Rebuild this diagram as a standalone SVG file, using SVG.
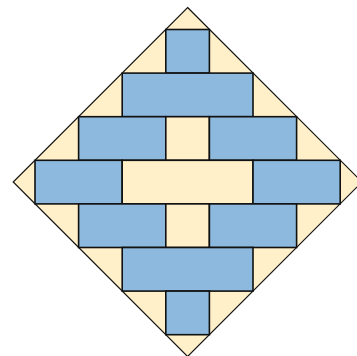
<svg xmlns="http://www.w3.org/2000/svg" width="357" height="356" viewBox="0 0 357 356">
<style>
.b{fill:#8cb9dd;stroke:#111;stroke-width:1.6}
.y{fill:#fff0c9;stroke:#111;stroke-width:1.6}
.d{fill:#fff0c9;stroke:#111;stroke-width:1.2}
</style>
<rect width="357" height="356" fill="#fff"/>
<g id="diamond"><polygon class="d" points="187.6,7.5 362,182 187.6,356.5 13.2,182"/></g>
<g id="tiles">
<rect id="r0" class="b" x="165.8" y="29.5" width="43.6" height="43.6"/>
<rect id="r1" class="b" x="122.2" y="73.1" width="130.8" height="43.6"/>
<rect id="r2a" class="b" x="78.6" y="116.7" width="87.2" height="43.6"/>
<rect id="r2b" class="y" x="165.8" y="116.7" width="43.6" height="43.6"/>
<rect id="r2c" class="b" x="209.4" y="116.7" width="87.2" height="43.6"/>
<rect id="r3a" class="b" x="35" y="160.3" width="87.2" height="43.6"/>
<rect id="r3b" class="y" x="122.2" y="160.3" width="130.8" height="43.6"/>
<rect id="r3c" class="b" x="253" y="160.3" width="87.2" height="43.6"/>
<rect id="r4a" class="b" x="78.6" y="203.9" width="87.2" height="43.6"/>
<rect id="r4b" class="y" x="165.8" y="203.9" width="43.6" height="43.6"/>
<rect id="r4c" class="b" x="209.4" y="203.9" width="87.2" height="43.6"/>
<rect id="r5" class="b" x="122.2" y="247.5" width="130.8" height="43.6"/>
<rect id="r6" class="b" x="165.8" y="291.1" width="43.6" height="43.6"/>
</g>
<g id="connectors"/>
</svg>
